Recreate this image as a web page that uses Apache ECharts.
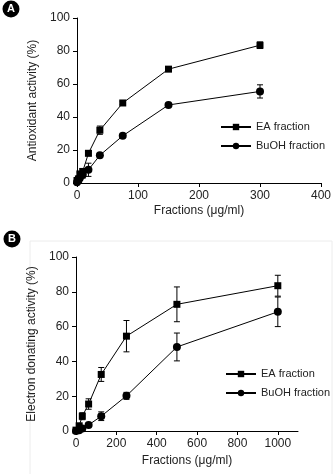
<!DOCTYPE html>
<html>
<head>
<meta charset="utf-8">
<script src="https://cdn.jsdelivr.net/npm/echarts@6/dist/echarts.min.js"></script>
<style>
  html, body { margin: 0; padding: 0; background: #fff; }
  #container { width: 335px; height: 474px; }
</style>
</head>
<body>
<div id="container"></div>
<script>
// panel A - antioxidant activity
var concA = [0, 2.34, 4.69, 9.38, 18.75, 37.5, 75, 150, 300];
var eaA = [1.5, 2.5, 5.5, 7, 18, 32, 48.5, 69, 83.5];
var eaErrA = [0.5, 1, 1, 1.5, 1.5, 2.5, 1, 1, 2];
var buA = [0.5, 1.5, 3, 5, 8, 16.8, 28.6, 47.3, 55.5];
var buErrA = [0.3, 0.5, 1, 2, 4, 1, 1, 1, 4];

// panel B - electron donating activity
var concB = [0, 15.6, 31.25, 62.5, 125, 250, 500, 1000];
var eaB = [0.5, 3, 8.5, 15.5, 32.5, 54.5, 72.8, 83.5];
var eaErrB = [0.5, 1, 2, 3, 4, 9, 10, 6];
var buB = [0, 0.5, 1.5, 3.5, 8.5, 20.2, 48.3, 68.5];
var buErrB = [0.3, 0.5, 0.5, 1, 2.5, 2, 8, 8.5];

var yTicks = [0, 20, 40, 60, 80, 100];
var seriesNames = ["EA fraction", "BuOH fraction"];

var font = "Liberation Sans, Arial, sans-serif";
var txt = "#222";

function pairs(xs, ys) {
  return xs.map(function (x, i) { return [x, ys[i]]; });
}
function errData(xs, ys, es) {
  return xs.map(function (x, i) { return [x, ys[i] - es[i], ys[i] + es[i]]; });
}
function renderErr(params, api) {
  var lo = api.coord([api.value(0), api.value(1)]);
  var hi = api.coord([api.value(0), api.value(2)]);
  var w = 3;
  var st = { stroke: "#000", lineWidth: 1 };
  return {
    type: "group",
    children: [
      { type: "line", shape: { x1: lo[0], y1: lo[1], x2: hi[0], y2: hi[1] }, style: st },
      { type: "line", shape: { x1: lo[0] - w, y1: lo[1], x2: lo[0] + w, y2: lo[1] }, style: st },
      { type: "line", shape: { x1: hi[0] - w, y1: hi[1], x2: hi[0] + w, y2: hi[1] }, style: st }
    ]
  };
}

function xAxis(idx, max, interval) {
  return {
    type: "value", gridIndex: idx, min: 0, max: max, interval: interval,
    name: "Fractions (\u03bcg/ml)", nameLocation: "middle", nameGap: idx ? 24 : 22,
    nameTextStyle: { fontFamily: font, fontSize: 12, color: txt },
    axisLine: { lineStyle: { color: "#000", width: 1 } },
    axisTick: { length: 4, lineStyle: { color: "#000" } },
    axisLabel: {
      fontFamily: font, fontSize: 12, color: txt, margin: 7,
      showMaxLabel: idx ? false : true,
      formatter: function (v) { return String(v); }
    },
    splitLine: { show: false }
  };
}
function yAxis(idx, name) {
  return {
    type: "value", gridIndex: idx, min: yTicks[0], max: yTicks[yTicks.length - 1], interval: 20,
    name: name, nameLocation: "middle", nameGap: 32,
    nameTextStyle: { fontFamily: font, fontSize: 12, color: txt },
    axisLine: { show: true, lineStyle: { color: "#000", width: 1 } },
    axisTick: { show: true, length: 4, lineStyle: { color: "#000" } },
    axisLabel: { fontFamily: font, fontSize: 12, color: txt, margin: 7 },
    splitLine: { show: false }
  };
}
function lineSeries(name, idx, data, symbol, size) {
  return {
    name: name, type: "line", xAxisIndex: idx, yAxisIndex: idx, data: data,
    symbol: symbol, symbolSize: size, z: 3,
    lineStyle: { color: "#000", width: 1 },
    itemStyle: { color: "#000" }
  };
}
function errSeries(idx, data) {
  return {
    type: "custom", xAxisIndex: idx, yAxisIndex: idx, data: data,
    renderItem: renderErr, z: 2, silent: true
  };
}
function legend(left, top) {
  return {
    data: seriesNames, orient: "vertical", left: left, top: top, padding: 0,
    itemWidth: 30, itemHeight: 8, itemGap: 7,
    textStyle: { fontFamily: font, fontSize: 11, lineHeight: 12, color: txt }
  };
}

var option = {
  backgroundColor: "#fff",
  animation: false,
  grid: [
    { left: 77, top: 18, width: 244, height: 165 },
    { left: 76, top: 257, width: 222, height: 174 }
  ],
  xAxis: [xAxis(0, 400, 100), xAxis(1, 1100, 200)],
  yAxis: [yAxis(0, "Antioxidant activity (%)"), yAxis(1, "Electron donating activity (%)")],
  legend: [legend(220, 121), legend(225, 368)],
  graphic: [
    { type: "rect", shape: { x: 30, y: 241, width: 302, height: 240 }, style: { fill: "none", stroke: "#ececec", lineWidth: 1 }, z: -1 },
    { type: "circle", shape: { cx: 11, cy: 9, r: 8.5 }, style: { fill: "#000" } },
    { type: "text", x: 11, y: 9, style: { text: "A", fill: "#fff", font: "bold 11px " + font, align: "center", verticalAlign: "middle" }, z: 10 },
    { type: "circle", shape: { cx: 12, cy: 239, r: 8.5 }, style: { fill: "#000" } },
    { type: "text", x: 12, y: 239, style: { text: "B", fill: "#fff", font: "bold 11px " + font, align: "center", verticalAlign: "middle" }, z: 10 }
  ],
  series: [
    errSeries(0, errData(concA, eaA, eaErrA)),
    errSeries(0, errData(concA, buA, buErrA)),
    lineSeries(seriesNames[0], 0, pairs(concA, eaA), "rect", 7),
    lineSeries(seriesNames[1], 0, pairs(concA, buA), "circle", 8),
    errSeries(1, errData(concB, eaB, eaErrB)),
    errSeries(1, errData(concB, buB, buErrB)),
    lineSeries(seriesNames[0], 1, pairs(concB, eaB), "rect", 7),
    lineSeries(seriesNames[1], 1, pairs(concB, buB), "circle", 8)
  ]
};

var chart = echarts.init(document.getElementById("container"), null, { renderer: "canvas" });
chart.setOption(option);
</script>
</body>
</html>
